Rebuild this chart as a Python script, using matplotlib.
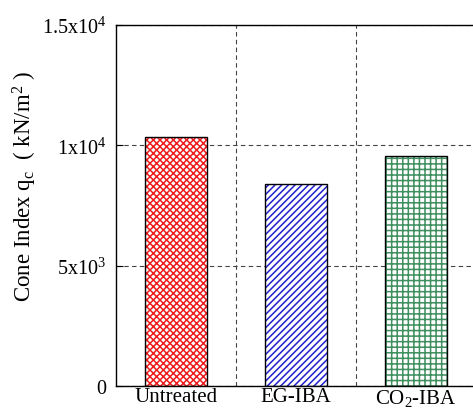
import matplotlib
matplotlib.use('Agg')
import matplotlib.pyplot as plt
import numpy as np

categories = ['Untreated', 'EG-IBA', 'CO$_2$-IBA']
cone_index = [10350, 8400, 9560]
bar_colors = ['#ee1c1c', '#2020d0', '#3f8f5f']
hatches = ['xxxxx', '/////', '+++']

yticks = [0, 5000, 10000, 15000]
ytick_labels = ['0', '5x10$^3$', '1x10$^4$', '1.5x10$^4$']

plt.rcParams['font.family'] = ['Liberation Serif', 'DejaVu Serif']
plt.rcParams['mathtext.fontset'] = 'custom'
plt.rcParams['mathtext.rm'] = 'Liberation Serif'
plt.rcParams['mathtext.it'] = 'Liberation Serif'
plt.rcParams['hatch.linewidth'] = 1.1

fig = plt.figure(figsize=(4.73, 4.14), dpi=100)
ax = fig.add_axes([116 / 473, 1 - 387 / 414, 360 / 473, 361 / 414])

x = np.arange(len(categories))
# hatch in bar colour, then a plain black outline on top
ax.bar(x, cone_index, width=0.52, color='white', edgecolor=bar_colors,
       hatch=hatches, linewidth=0, zorder=2)
ax.bar(x, cone_index, width=0.52, fill=False, edgecolor='black',
       linewidth=1.0, zorder=3)

ax.set_xlim(-0.5, 2.5)
ax.set_ylim(0, 15000)
ax.set_xticks(x)
ax.set_xticklabels(categories, fontsize=15)
ax.set_yticks(yticks)
ax.set_yticklabels(ytick_labels, fontsize=14.5)
ax.set_xticks([0.5, 1.5], minor=True)
ax.tick_params(axis='x', which='both', length=0, pad=1)
ax.tick_params(axis='y', direction='in', length=5, pad=7)

ax.grid(True, axis='y', linestyle=(0, (4, 3)), color='#444444', linewidth=0.8, zorder=1)
ax.grid(True, axis='x', which='minor', linestyle=(0, (4, 3)), color='#444444', linewidth=0.8, zorder=1)

for s in ax.spines.values():
    s.set_linewidth(1.0)
    s.set_color('black')

ax.set_ylabel('Cone Index q$_\\mathrm{c}$  ( kN/m$^2$ )', fontsize=16.5)
ax.yaxis.set_label_coords(-0.215, 0.555)

fig.savefig('out.png', dpi=100)
